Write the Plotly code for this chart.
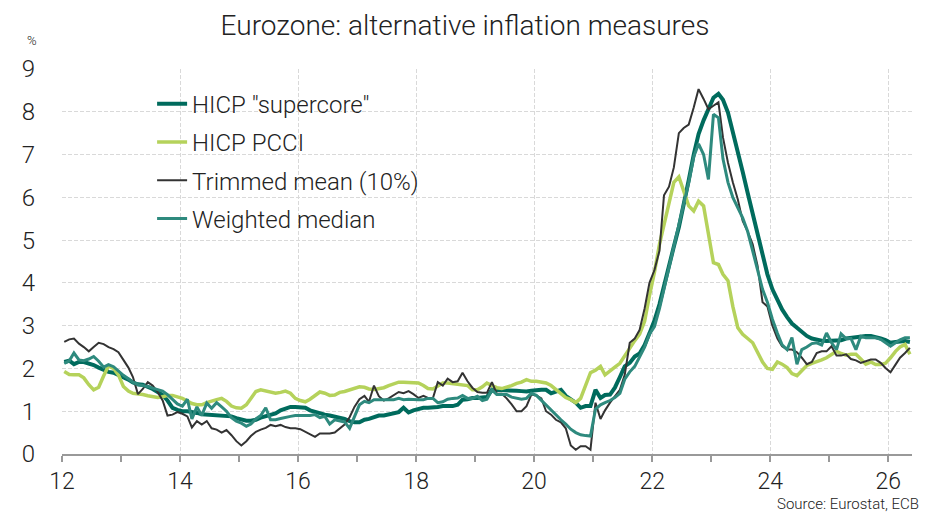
import pandas as pd
import plotly.graph_objects as go

# Monthly observations, Jan 2012 - May 2026 (plotted at mid-month)
months = pd.date_range("2012-01-01", periods=173, freq="MS") + pd.Timedelta(days=14)

supercore = [
    2.15, 2.18, 2.1, 2.15, 2.15, 2.12, 2.08, 2.02, 1.96, 1.92, 1.9, 1.85,
    1.8, 1.74, 1.67, 1.63, 1.62, 1.58, 1.52, 1.45, 1.38, 1.25, 1.08, 1.03,
    1.0, 1.0, 0.97, 0.96, 0.93, 0.92, 0.9, 0.9, 0.88, 0.88, 0.88, 0.84,
    0.8, 0.78, 0.78, 0.8, 0.85, 0.88, 0.9, 0.95, 1.02, 1.06, 1.1, 1.1,
    1.1, 1.08, 1.02, 0.98, 0.95, 0.92, 0.9, 0.88, 0.86, 0.82, 0.77, 0.74,
    0.74, 0.8, 0.82, 0.87, 0.9, 0.9, 0.93, 0.95, 0.98, 1.08, 0.97, 1.02,
    1.05, 1.08, 1.08, 1.08, 1.1, 1.12, 1.12, 1.12, 1.15, 1.27, 1.28, 1.31,
    1.31, 1.31, 1.33, 1.5, 1.5, 1.5, 1.5, 1.5, 1.48, 1.47, 1.46, 1.48,
    1.5, 1.5, 1.5, 1.42, 1.46, 1.5, 1.36, 1.28, 1.2, 1.08, 1.12, 1.12,
    1.5, 1.31, 1.38, 1.39, 1.55, 1.8, 2.05, 2.13, 2.28, 2.35, 2.55, 2.82,
    3.12, 3.5, 3.95, 4.4, 4.85, 5.3, 5.8, 6.4, 7.0, 7.48, 7.8, 8.07,
    8.33, 8.42, 8.28, 7.98, 7.55, 7.1, 6.6, 6.1, 5.6, 5.1, 4.6, 4.2,
    3.85, 3.6, 3.38, 3.2, 3.05, 2.95, 2.85, 2.76, 2.7, 2.67, 2.65, 2.64,
    2.64, 2.64, 2.66, 2.7, 2.72, 2.74, 2.75, 2.76, 2.76, 2.74, 2.7, 2.66,
    2.6, 2.62, 2.64, 2.64, 2.62,
]

pcci = [
    1.93, 1.86, 1.85, 1.85, 1.78, 1.62, 1.5, 1.56, 1.83, 2.06, 2.0, 1.85,
    1.58, 1.47, 1.42, 1.41, 1.39, 1.36, 1.34, 1.32, 1.34, 1.37, 1.37, 1.34,
    1.3, 1.24, 1.18, 1.15, 1.15, 1.2, 1.24, 1.27, 1.3, 1.23, 1.12, 1.08,
    1.07, 1.15, 1.3, 1.46, 1.5, 1.47, 1.44, 1.42, 1.44, 1.47, 1.42, 1.3,
    1.25, 1.22, 1.28, 1.38, 1.45, 1.42, 1.37, 1.38, 1.44, 1.46, 1.5, 1.53,
    1.57, 1.56, 1.52, 1.51, 1.52, 1.55, 1.6, 1.65, 1.68, 1.68, 1.68, 1.68,
    1.66, 1.6, 1.53, 1.52, 1.6, 1.66, 1.66, 1.65, 1.64, 1.63, 1.6, 1.5,
    1.5, 1.57, 1.66, 1.6, 1.55, 1.53, 1.56, 1.6, 1.65, 1.68, 1.74, 1.7,
    1.7, 1.68, 1.66, 1.6, 1.5, 1.4, 1.32, 1.27, 1.2, 1.3, 1.6, 1.9,
    1.96, 2.05, 1.85, 1.93, 2.03, 2.12, 2.3, 2.5, 2.65, 2.8, 3.1, 3.7,
    4.25, 4.9, 5.35, 5.85, 6.35, 6.48, 6.15, 5.8, 5.68, 5.91, 5.8, 5.1,
    4.47, 4.43, 4.2, 4.05, 3.45, 2.95, 2.8, 2.7, 2.6, 2.38, 2.15, 2.0,
    1.98, 2.15, 2.1, 2.02, 1.88, 1.83, 1.95, 2.07, 2.12, 2.15, 2.2, 2.25,
    2.33, 2.4, 2.35, 2.31, 2.33, 2.33, 2.22, 2.1, 2.15, 2.09, 2.09, 2.12,
    2.25, 2.4, 2.5, 2.56, 2.33,
]

trimmed_mean = [
    2.62, 2.68, 2.7, 2.58, 2.5, 2.4, 2.5, 2.6, 2.57, 2.5, 2.45, 2.38,
    2.2, 2.02, 1.8, 1.4, 1.52, 1.68, 1.6, 1.45, 1.25, 0.9, 0.92, 0.98,
    0.94, 0.88, 0.62, 0.77, 0.69, 0.77, 0.6, 0.57, 0.5, 0.56, 0.44, 0.3,
    0.2, 0.3, 0.42, 0.52, 0.57, 0.61, 0.68, 0.65, 0.68, 0.63, 0.6, 0.6,
    0.58, 0.52, 0.46, 0.4, 0.48, 0.48, 0.48, 0.5, 0.6, 0.69, 0.86, 1.1,
    1.28, 1.36, 1.22, 1.6, 1.35, 1.25, 1.3, 1.38, 1.45, 1.42, 1.47, 1.4,
    1.31, 1.36, 1.31, 1.31, 1.68, 1.6, 1.76, 1.68, 1.7, 1.9, 1.7, 1.55,
    1.45, 1.43, 1.43, 1.68, 1.41, 1.41, 1.3, 1.16, 1.0, 1.0, 1.12, 1.39,
    1.37, 1.3, 1.0, 0.92, 0.8, 0.74, 0.6, 0.2, 0.1, 0.18, 0.18, 0.1,
    1.2, 0.82, 1.02, 1.2, 1.35, 1.5, 1.85, 2.6, 2.7, 2.9, 3.4, 4.0,
    4.3, 4.75, 6.05, 6.25, 6.7, 7.5, 7.62, 7.7, 8.1, 8.53, 8.3, 8.06,
    8.14, 8.22, 7.4, 6.81, 6.35, 5.95, 5.45, 5.2, 4.9, 4.4, 3.55, 3.45,
    3.0, 2.7, 2.52, 2.44, 2.44, 2.38, 2.25, 2.1, 2.15, 2.36, 2.4, 2.4,
    2.52, 2.3, 2.3, 2.33, 2.22, 2.19, 2.13, 2.17, 2.21, 2.21, 2.13, 2.01,
    1.91, 2.09, 2.25, 2.36, 2.48,
]

weighted_median = [
    2.12, 2.18, 2.36, 2.2, 2.18, 2.22, 2.28, 2.17, 2.03, 2.09, 2.04, 1.94,
    1.84, 1.76, 1.68, 1.62, 1.6, 1.58, 1.54, 1.5, 1.47, 1.39, 1.28, 1.17,
    1.12, 1.28, 0.82, 1.1, 0.9, 1.19, 1.07, 1.2, 1.1, 1.0, 0.85, 0.77,
    0.72, 0.65, 0.7, 0.82, 0.9, 1.08, 0.8, 0.8, 0.83, 0.86, 0.88, 0.9,
    0.9, 0.9, 0.9, 0.92, 0.85, 0.88, 0.7, 0.8, 0.77, 0.75, 0.6, 0.85,
    1.15, 1.23, 1.2, 1.27, 1.27, 1.27, 1.26, 1.27, 1.3, 1.27, 1.28, 1.27,
    1.27, 1.27, 1.3, 1.3, 1.2, 1.22, 1.28, 1.3, 1.31, 1.37, 1.3, 1.3,
    1.35, 1.25, 1.28, 1.5, 1.39, 1.39, 1.39, 1.33, 1.3, 1.28, 1.3, 1.42,
    1.37, 1.25, 1.14, 1.04, 0.92, 0.8, 0.7, 0.58, 0.5, 0.45, 0.43, 0.42,
    1.05, 1.15, 1.2, 1.25, 1.32, 1.42, 1.75, 1.92, 2.05, 2.28, 2.5, 2.8,
    2.98, 3.4, 3.85, 4.35, 4.85, 5.35, 5.8, 6.35, 6.95, 7.25, 7.0, 6.42,
    7.94, 7.86, 6.9, 6.35, 6.0, 5.75, 5.52, 5.2, 4.75, 4.3, 3.85, 3.55,
    3.15, 2.82, 2.55, 2.44, 2.72, 2.1, 2.44, 2.5, 2.58, 2.6, 2.55, 2.83,
    2.6, 2.44, 2.81, 2.7, 2.7, 2.44, 2.75, 2.72, 2.72, 2.72, 2.68, 2.6,
    2.52, 2.6, 2.67, 2.72, 2.72,
]

series_names = ['HICP "supercore"', "HICP PCCI", "Trimmed mean (10%)", "Weighted median"]
series_values = [supercore, pcci, trimmed_mean, weighted_median]
series_colors = ["#006B5D", "#B5D25B", "#333333", "#2E8A7E"]
series_widths = [4, 3.5, 2, 3]

y_ticks = [0, 1, 2, 3, 4, 5, 6, 7, 8, 9]

FONT = "Roboto"
TXT = "#222222"

# the page body adds an 8px offset, so the figure is drawn 8px smaller
W, H = 928, 508

fig = go.Figure()
for name, vals, col, w in zip(series_names, series_values, series_colors, series_widths):
    fig.add_trace(go.Scatter(
        x=months, y=vals, name=name, mode="lines",
        line=dict(color=col, width=w), legendgroup=name,
    ))

fig.update_layout(
    width=W, height=H,
    margin=dict(l=54, r=24, t=61, b=62, autoexpand=False),
    paper_bgcolor="white", plot_bgcolor="white",
    font=dict(family=FONT, color=TXT, weight=300),
    title=dict(text="Eurozone: alternative inflation measures", x=(465 - 8) / W, xanchor="center",
               y=1 - 17 / H, yanchor="middle", yref="container",
               font=dict(size=28, family=FONT, color=TXT, weight=300)),
    showlegend=True,
    legend=dict(x=0.106, y=0.967, xanchor="left", yanchor="top",
                bgcolor="rgba(0,0,0,0)",
                font=dict(size=24, family=FONT, color=TXT, weight=300),
                tracegroupgap=4),
    xaxis=dict(
        type="date", range=["2012-01-01", "2026-05-28"], automargin=False,
        tick0="2012-01-01", dtick="M24", tickformat="%y",
        ticks="outside", ticklen=6, tickcolor="#999999", tickwidth=1.5,
        showline=True, linecolor="#999999", linewidth=1.5,
        showgrid=True, gridcolor="#d9d9d9", griddash="4px,2px", gridwidth=1,
        tickfont=dict(size=23, family=FONT, color=TXT, weight=300),
        minor=dict(tick0="2012-01-01", dtick="M12", ticks="outside", ticklen=6,
                   tickcolor="#999999", tickwidth=1.5, showgrid=False),
    ),
    yaxis=dict(
        range=[0, 9], tickvals=y_ticks, automargin=False,
        showgrid=True, gridcolor="#d9d9d9", griddash="4px,2px", gridwidth=1,
        zeroline=False, showline=False, ticks="",
        ticklabelstandoff=26,
        tickfont=dict(size=24, family=FONT, color=TXT, weight=300),
    ),
    annotations=[
        dict(text="%", xref="paper", yref="paper", x=(32 - 62) / 850, y=(454 - 40) / 385,
             xanchor="center", yanchor="middle", showarrow=False,
             font=dict(size=13, family=FONT, color=TXT, weight=300)),
        dict(text="Source: Eurostat, ECB", xref="paper", yref="paper",
             x=(921 - 62) / 850, y=(454 - 504) / 385, xanchor="right", yanchor="middle",
             showarrow=False, font=dict(size=15, family=FONT, color=TXT, weight=300)),
    ],
)

fig.write_html("out.html")
